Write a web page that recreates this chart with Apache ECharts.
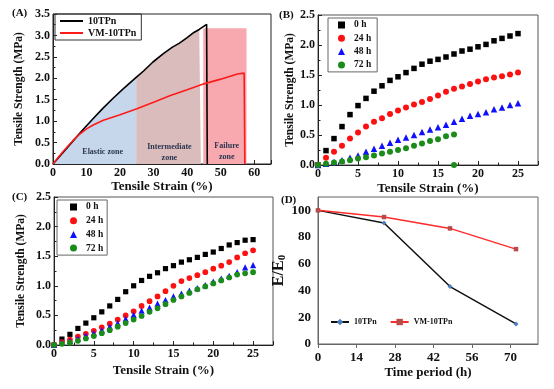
<!DOCTYPE html>
<html><head><meta charset="utf-8">
<script src="https://cdn.jsdelivr.net/npm/echarts@6/dist/echarts.min.js"></script>
<style>html,body{margin:0;padding:0;background:#fff}#c{width:554px;height:389px}</style>
</head><body><div id="c"></div>
<script>
// ---------- Panel A data ----------
const aStrain10TPn = [0, 3, 6, 8.7, 12, 15, 18, 21, 24.8, 27, 29.8, 33, 35.5, 37.7, 40, 42, 43.6, 44.1, 45.8, 46, 46];
const aStress10TPn = [0, 0.27, 0.54, 0.78, 1.06, 1.31, 1.54, 1.76, 2.02, 2.17, 2.38, 2.58, 2.72, 2.82, 2.95, 3.07, 3.14, 3.17, 3.26, 3.26, 0];
const aStrainVM = [0, 2, 4, 6, 8, 10, 12, 15, 20, 25, 30, 35, 40, 45, 50, 55, 57, 57.2];
const aStressVM = [0, 0.2, 0.38, 0.55, 0.7, 0.82, 0.91, 1.02, 1.15, 1.29, 1.44, 1.6, 1.73, 1.87, 1.98, 2.1, 2.12, 0];
const zoneElasticEnd = 24.8;
const zoneIntermediateEnd = 44.1;
const zoneFailureStart = 44.8;
const zoneFailureEnd = 57.7;
const zoneFailureTop = 3.17;
const zoneLabels = ['Elastic zone', 'Intermediate\nzone', 'Failure\nzone'];
const zoneLabelX = [14.8, 34.7, 51.8];
const zoneLabelY = [0.27, 0.28, 0.3];

// ---------- Panel B data ----------
const strainBC = [0,1,2,3,4,5,6,7,8,9,10,11,12,13,14,15,16,17,18,19,20,21,22,23,24,25];
const b0h  = [0,0.24,0.44,0.64,0.84,0.99,1.11,1.23,1.32,1.41,1.47,1.54,1.61,1.68,1.73,1.76,1.80,1.85,1.90,1.93,1.97,2.01,2.07,2.11,2.15,2.19];
const b24h = [0,0.12,0.22,0.32,0.44,0.54,0.64,0.72,0.78,0.85,0.91,0.96,1.01,1.05,1.10,1.16,1.22,1.27,1.31,1.35,1.39,1.43,1.46,1.48,1.51,1.54];
const b48h = [0,0.02,0.05,0.08,0.12,0.16,0.22,0.27,0.32,0.37,0.42,0.46,0.50,0.55,0.59,0.63,0.67,0.72,0.77,0.82,0.85,0.88,0.93,0.96,1.00,1.03];
const b72Strain = [0,1,2,3,4,5,6,7,8,9,10,11,12,13,14,15,16,17,17];
const b72h = [0,0.02,0.04,0.06,0.08,0.11,0.13,0.16,0.19,0.22,0.25,0.28,0.32,0.36,0.40,0.43,0.48,0.51,0];

// ---------- Panel C data ----------
const c0h  = [0,0.10,0.18,0.28,0.37,0.46,0.56,0.66,0.77,0.90,1.00,1.09,1.16,1.22,1.29,1.34,1.40,1.44,1.48,1.53,1.57,1.63,1.69,1.73,1.77,1.78];
const c24h = [0,0.05,0.09,0.14,0.19,0.24,0.30,0.36,0.43,0.50,0.57,0.66,0.74,0.82,0.91,1.00,1.08,1.13,1.18,1.23,1.29,1.34,1.40,1.48,1.55,1.60];
const c48h = [0,0.04,0.07,0.11,0.16,0.20,0.25,0.31,0.37,0.44,0.51,0.58,0.63,0.70,0.76,0.82,0.87,0.92,0.96,1.01,1.07,1.12,1.17,1.23,1.31,1.35];
const c72h = [0,0.02,0.04,0.07,0.11,0.15,0.20,0.25,0.31,0.37,0.43,0.49,0.56,0.62,0.69,0.76,0.82,0.88,0.94,0.99,1.04,1.09,1.14,1.19,1.21,1.23];
const timeLabels = ['0 h', '24 h', '48 h', '72 h'];

// ---------- Panel D data ----------
const dTime = [0, 24, 48, 72];
const d10TPn = [100, 90.5, 43, 15];
const dVM = [100, 95, 86.5, 71];

// ---------- helpers ----------
const FF = "'Liberation Serif','Times New Roman',serif";
const zip = (xs, ys) => xs.map((x, i) => [x, ys[i]]);
const blackA = zip(aStrain10TPn, aStress10TPn);
const elasticPts = blackA.filter(p => p[0] <= zoneElasticEnd && p[1] > 0 || (p[0] === 0));
const interPts = blackA.filter((p, i) => p[0] >= zoneElasticEnd && p[0] <= zoneIntermediateEnd && i < aStrain10TPn.length - 2);
const failPts = [[zoneFailureStart, zoneFailureTop], [zoneFailureEnd, zoneFailureTop]];

const fmt1 = v => v.toFixed(1);
function xAx(grid, o) {
  return Object.assign({
    type: 'value', gridIndex: grid, min: 0,
    nameLocation: 'middle',
    nameTextStyle: { fontFamily: FF, fontWeight: 'bold', fontSize: 13, color: '#111' },
    axisLine: { show: true, lineStyle: { color: '#222', width: 1 } },
    axisTick: { show: true, inside: true, length: 4, lineStyle: { color: '#222' } },
    minorTick: { show: true, splitNumber: 2, length: 2.5, lineStyle: { color: '#222' } },
    splitLine: { show: false },
    axisLabel: { fontFamily: FF, fontWeight: 'bold', fontSize: 12, color: '#111', margin: 3, showMaxLabel: false }
  }, o);
}
function yAx(grid, o) {
  return Object.assign({
    type: 'value', gridIndex: grid, min: 0,
    nameLocation: 'middle',
    nameTextStyle: { fontFamily: FF, fontWeight: 'bold', fontSize: 11.5, color: '#111' },
    axisLine: { show: true, lineStyle: { color: '#222', width: 1 } },
    axisTick: { show: true, inside: true, length: 4, lineStyle: { color: '#222' } },
    minorTick: { show: true, splitNumber: 2, length: 2.5, lineStyle: { color: '#222' } },
    splitLine: { show: false },
    axisLabel: { fontFamily: FF, fontWeight: 'bold', fontSize: 12, color: '#111', margin: 3, formatter: fmt1 }
  }, o);
}
const strip = n => n.slice(2);
function boxLegend(names, left, top, pad, gap) {
  return {
    data: names, left: left, top: top, orient: 'vertical',
    borderColor: '#666', borderWidth: 1, padding: pad, itemGap: gap,
    itemWidth: 7, itemHeight: 7, formatter: strip,
    textStyle: { fontFamily: FF, fontWeight: 'bold', fontSize: 9.5, color: '#111', lineHeight: 9, padding: [0, 0, 0, 4] }
  };
}
function scat(name, xi, data, sym, color, size) {
  return { type: 'scatter', name: name, xAxisIndex: xi, yAxisIndex: xi, data: data,
    symbol: sym, symbolSize: size, itemStyle: { color: color, opacity: 1 } };
}
const SYM = ['rect', 'circle', 'triangle', 'circle'];
const COL = ['#000000', '#ff1010', '#1010ff', '#1a8c1a'];
const SZ = [5.5, 6, 6.5, 6];
const bData = [zip(strainBC, b0h), zip(strainBC, b24h), zip(strainBC, b48h), zip(b72Strain, b72h)];
const cData = [zip(strainBC, c0h), zip(strainBC, c24h), zip(strainBC, c48h), zip(strainBC, c72h)];

const series = [
  { type: 'line', name: 'A_zone1', xAxisIndex: 0, yAxisIndex: 0, data: elasticPts, symbol: 'none',
    lineStyle: { width: 0, opacity: 0 }, areaStyle: { color: '#c6d6eb', opacity: 1 }, z: 1, silent: true },
  { type: 'line', name: 'A_zone2', xAxisIndex: 0, yAxisIndex: 0, data: interPts, symbol: 'none',
    lineStyle: { width: 0, opacity: 0 }, areaStyle: { color: '#dbbcbc', opacity: 1 }, z: 1, silent: true },
  { type: 'line', name: 'A_zone3', xAxisIndex: 0, yAxisIndex: 0, data: failPts, symbol: 'none',
    lineStyle: { width: 0, opacity: 0 }, areaStyle: { color: '#f7a9af', opacity: 1 }, z: 1, silent: true,
    markPoint: {
      symbol: 'circle', symbolSize: 1, itemStyle: { color: 'rgba(0,0,0,0)' }, silent: true,
      label: { show: true, position: 'inside', fontFamily: FF, fontWeight: 'bold', fontSize: 8, color: '#2b3550', lineHeight: 11 },
      data: zoneLabels.map((t, i) => ({ coord: [zoneLabelX[i], zoneLabelY[i]], value: 0, label: { formatter: t } }))
    } },
  { type: 'line', name: 'A_10TPn', xAxisIndex: 0, yAxisIndex: 0, data: blackA, symbol: 'none',
    lineStyle: { color: '#000', width: 1.6 }, itemStyle: { color: '#000' }, z: 5 },
  { type: 'line', name: 'A_VM-10TPn', xAxisIndex: 0, yAxisIndex: 0, data: zip(aStrainVM, aStressVM), symbol: 'none',
    lineStyle: { color: '#ff1a1a', width: 1.6 }, itemStyle: { color: '#ff1a1a' }, z: 5 }
];
timeLabels.forEach((t, i) => series.push(scat('B_' + t, 1, bData[i], SYM[i], COL[i], SZ[i])));
timeLabels.forEach((t, i) => series.push(scat('C_' + t, 2, cData[i], SYM[i], COL[i], SZ[i] - 0.3)));
series.push({ type: 'line', name: 'D_10TPn', xAxisIndex: 3, yAxisIndex: 3, data: zip(dTime, d10TPn),
  symbol: 'diamond', symbolSize: 5, showSymbol: true,
  lineStyle: { color: '#111', width: 1.5 }, itemStyle: { color: '#4a7ebb' } });
series.push({ type: 'line', name: 'D_VM-10TPn', xAxisIndex: 3, yAxisIndex: 3, data: zip(dTime, dVM),
  symbol: 'rect', symbolSize: 4.5, showSymbol: true,
  lineStyle: { color: '#ff2a2a', width: 1.5 }, itemStyle: { color: '#b84a4a' } });

const titleStyle = { fontFamily: FF, fontWeight: 'bold', fontSize: 11, color: '#111' };
const option = {
  animation: false,
  backgroundColor: '#fff',
  title: [
    { text: '(A)', left: 12, top: 8, padding: 0, textStyle: titleStyle },
    { text: '(B)', left: 279, top: 10, padding: 0, textStyle: titleStyle },
    { text: '(C)', left: 12, top: 192, padding: 0, textStyle: titleStyle },
    { text: '(D)', left: 281, top: 195, padding: 0, textStyle: titleStyle }
  ],
  grid: [
    { left: 53, top: 14, width: 218, height: 150, show: true, borderColor: '#222', borderWidth: 1 },
    { left: 318, top: 15, width: 220, height: 150, show: true, borderColor: '#555', borderWidth: 1 },
    { left: 54, top: 197, width: 219, height: 148, show: true, borderColor: '#555', borderWidth: 1 },
    { left: 318, top: 197, width: 220, height: 147, show: true, borderColor: '#666', borderWidth: 1 }
  ],
  xAxis: [
    xAx(0, { max: 65, interval: 10, name: 'Tensile Strain (%)', nameGap: 15 }),
    xAx(1, { max: 27.5, interval: 5, name: 'Tensile Strain (%)', nameGap: 17 }),
    xAx(2, { max: 27.5, interval: 5, name: 'Tensile Strain (%)', nameGap: 19 }),
    xAx(3, { max: 80, interval: 14, name: 'Time period (h)', nameGap: 22,
      axisLine: { show: true, lineStyle: { color: '#666' } },
      axisTick: { show: true, inside: false, length: 4, lineStyle: { color: '#666' } },
      minorTick: { show: false },
      axisLabel: { fontFamily: FF, fontWeight: 'bold', fontSize: 13, color: '#111', margin: 7, showMaxLabel: false } })
  ],
  yAxis: [
    yAx(0, { max: 3.5, interval: 0.5, name: 'Tensile Strength (MPa)', nameGap: 28 }),
    yAx(1, { max: 2.5, interval: 0.5, name: 'Tensile Strength (MPa)', nameGap: 22 }),
    yAx(2, { max: 2.5, interval: 0.5, name: 'Tensile Strength (MPa)', nameGap: 27 }),
    yAx(3, { max: 110, interval: 20, name: 'E/E{s|0}', nameGap: 24,
      nameTextStyle: { fontFamily: FF, fontWeight: 'bold', fontSize: 16, color: '#111',
        rich: { s: { fontFamily: FF, fontWeight: 'bold', fontSize: 11, color: '#111', verticalAlign: 'bottom', padding: [6, 0, 0, 0] } } },
      axisLine: { show: true, lineStyle: { color: '#666' } },
      axisTick: { show: false },
      minorTick: { show: false },
      axisLabel: { fontFamily: FF, fontWeight: 'bold', fontSize: 13, color: '#111', margin: 7, showMaxLabel: false, formatter: null } })
  ],
  legend: [
    { data: [{ name: 'A_10TPn', icon: 'rect' }, { name: 'A_VM-10TPn', icon: 'rect' }], left: 55, top: 14, orient: 'vertical',
      borderColor: '#333', borderWidth: 1, padding: [2, 5, 2, 5], itemGap: 2,
      itemWidth: 23, itemHeight: 2, formatter: strip,
      textStyle: { fontFamily: FF, fontWeight: 'bold', fontSize: 10, color: '#111', lineHeight: 10 } },
    boxLegend(timeLabels.map(t => 'B_' + t), 328, 18, [2, 6, 2, 10], 3.3),
    boxLegend(timeLabels.map(t => 'C_' + t), 57, 200, [2, 4, 2, 13], 3.7),
    { data: ['D_10TPn', 'D_VM-10TPn'], left: 330, top: 318, orient: 'horizontal',
      padding: 0, itemGap: 13, itemWidth: 18, itemHeight: 8, formatter: strip,
      textStyle: { fontFamily: FF, fontWeight: 'bold', fontSize: 8, color: '#111' } }
  ],
  series: series
};
const chart = echarts.init(document.getElementById('c'), null, { renderer: 'canvas' });
chart.setOption(option);
</script>
</body></html>
